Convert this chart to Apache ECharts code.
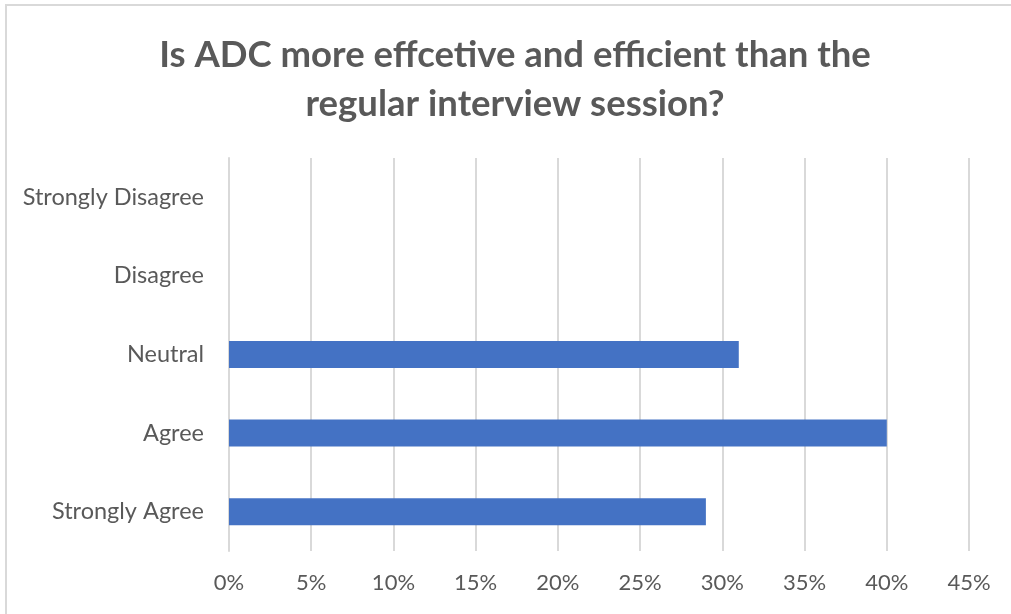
<!DOCTYPE html>
<html>
<head>
<meta charset="utf-8">
<script src="https://cdn.jsdelivr.net/npm/echarts@6/dist/echarts.min.js"></script>
<style>
  html, body { margin: 0; padding: 0; background: #fff; overflow: hidden; }
  #frame { position: absolute; left: 0; top: 0; width: 1011px; height: 614px; overflow: hidden; }
  #border { position: absolute; left: 5px; top: 4px; width: 1100px; height: 700px;
            border-top: 2px solid #d9d9d9; border-left: 2px solid #d9d9d9; box-sizing: border-box; }
  #chart { position: absolute; left: 0; top: 0; width: 1011px; height: 614px; }
</style>
</head>
<body>
<div id="frame">
  <div id="border"></div>
  <div id="chart"></div>
</div>
<script>
// Survey responses, listed from the bottom of the axis upward
const categories = ['Strongly Agree', 'Agree', 'Neutral', 'Disagree', 'Strongly Disagree'];
const shares = [29, 40, 31, 0, 0];
const titleText = 'Is ADC more effcetive and efficient than the\nregular interview session?';

const chart = echarts.init(document.getElementById('chart'), null, { renderer: 'canvas' });
const labelColor = '#595959';
const fontFamily = 'Lato, "Open Sans", sans-serif';

chart.setOption({
  animation: false,
  title: {
    text: titleText,
    left: 510,
    textAlign: 'center',
    top: 26,
    textStyle: {
      fontFamily: fontFamily,
      fontSize: 36.5,
      fontWeight: 'bold',
      color: labelColor,
      lineHeight: 49
    }
  },
  grid: { left: 229, right: 42, top: 158, bottom: 63, containLabel: false },
  xAxis: {
    type: 'value',
    min: 0,
    max: 45,
    interval: 5,
    axisLine: { show: false },
    axisTick: { show: false },
    splitLine: { show: true, lineStyle: { color: '#d9d9d9', width: 2 } },
    axisLabel: {
      formatter: v => v + '%',
      color: labelColor,
      fontFamily: fontFamily,
      fontSize: 22,
      margin: 21
    }
  },
  yAxis: {
    type: 'category',
    data: categories,
    axisLine: { show: true, lineStyle: { color: '#d9d9d9', width: 2 } },
    axisTick: { show: false },
    splitLine: { show: false },
    axisLabel: {
      color: labelColor,
      fontFamily: fontFamily,
      fontSize: 23.5,
      margin: 25
    }
  },
  series: [{
    type: 'bar',
    data: shares,
    barWidth: 27,
    itemStyle: { color: '#4472C4' }
  }]
});
</script>
</body>
</html>
